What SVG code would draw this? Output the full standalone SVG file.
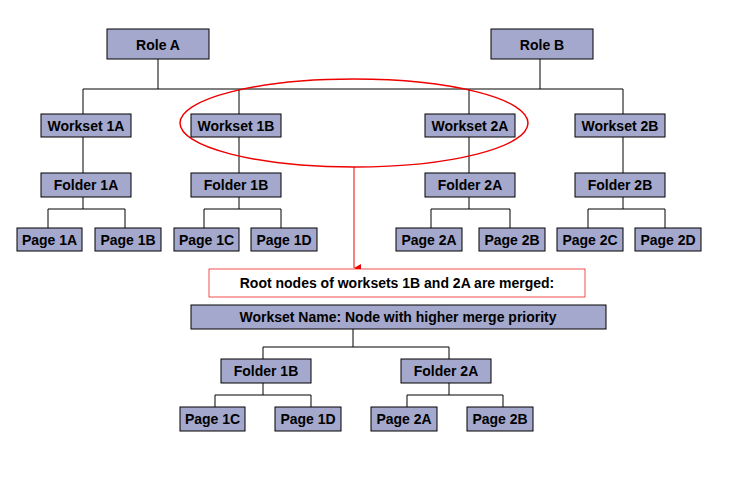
<svg xmlns="http://www.w3.org/2000/svg" width="756" height="482" viewBox="0 0 756 482">
<style>
.n rect{fill:#a4a8cc;stroke:#000;stroke-width:1}
text{font-family:"Liberation Sans",Arial,sans-serif;font-weight:bold;font-size:14px;text-anchor:middle;fill:#000}
.c{stroke:#000;stroke-width:1;fill:none}
</style>
<defs><marker id="ah" markerWidth="8" markerHeight="8" refX="4" refY="7" orient="auto" markerUnits="userSpaceOnUse"><path d="M0,0 L8,0 L4,7Z" fill="#e00"/></marker></defs>
<rect width="756" height="482" fill="#fff"/>
<g id="connectors">
<path class="c" d="M158 59V89M540 59V89M83 89H623M83 89V114M239 89V114M469 89V114M623 89V114"/>
<path class="c" d="M83 137V173M239 137V173M469 137V173M623 137V173"/>
<path class="c" d="M83 197V209M48 209H125M48 209V228M125 209V228M239 197V209M204 209H281M204 209V228M281 209V228"/>
<path class="c" d="M469 197V209M431 209H510M431 209V228M510 209V228M623 197V209M588 209H665M588 209V228M665 209V228"/>
<path class="c" d="M353 329V347M263 347H449M263 347V359M449 347V359M263 383V395M215 395H311M215 395V407M311 395V407M449 383V395M407 395H503M407 395V407M503 395V407"/>
<ellipse cx="354" cy="123" rx="174" ry="44" fill="none" stroke="#e00" stroke-width="1.5"/>
<line x1="354" y1="167" x2="354" y2="268" stroke="#e00" stroke-width="1" marker-end="url(#ah)"/>
</g>
<g id="roleA" class="n"><rect x="107" y="29" width="102" height="30"/><text x="158" y="50">Role A</text></g>
<g id="roleB" class="n"><rect x="491" y="29" width="102" height="30"/><text x="542" y="50">Role B</text></g>
<g id="ws1A" class="n"><rect x="41" y="114" width="90" height="23"/><text x="86" y="131">Workset 1A</text></g>
<g id="ws1B" class="n"><rect x="191" y="114" width="90" height="23"/><text x="236" y="131">Workset 1B</text></g>
<g id="ws2A" class="n"><rect x="425" y="114" width="90" height="23"/><text x="470" y="131">Workset 2A</text></g>
<g id="ws2B" class="n"><rect x="575" y="114" width="90" height="23"/><text x="620" y="131">Workset 2B</text></g>
<g id="f1A" class="n"><rect x="41" y="173" width="90" height="24"/><text x="86" y="190">Folder 1A</text></g>
<g id="f1B" class="n"><rect x="191" y="173" width="90" height="24"/><text x="236" y="190">Folder 1B</text></g>
<g id="f2A" class="n"><rect x="425" y="173" width="90" height="24"/><text x="470" y="190">Folder 2A</text></g>
<g id="f2B" class="n"><rect x="575" y="173" width="90" height="24"/><text x="620" y="190">Folder 2B</text></g>
<g id="p1A" class="n"><rect x="17" y="228" width="65" height="23"/><text x="49.5" y="245">Page 1A</text></g>
<g id="p1B" class="n"><rect x="95" y="228" width="66" height="23"/><text x="128" y="245">Page 1B</text></g>
<g id="p1C" class="n"><rect x="174" y="228" width="65" height="23"/><text x="206.5" y="245">Page 1C</text></g>
<g id="p1D" class="n"><rect x="251" y="228" width="66" height="23"/><text x="284" y="245">Page 1D</text></g>
<g id="p2A" class="n"><rect x="396" y="228" width="66" height="23"/><text x="429" y="245">Page 2A</text></g>
<g id="p2B" class="n"><rect x="479" y="228" width="66" height="23"/><text x="512" y="245">Page 2B</text></g>
<g id="p2C" class="n"><rect x="557" y="228" width="66" height="23"/><text x="590" y="245">Page 2C</text></g>
<g id="p2D" class="n"><rect x="635" y="228" width="66" height="23"/><text x="668" y="245">Page 2D</text></g>
<g id="note"><rect x="209" y="269" width="376" height="28" fill="#fff" stroke="#e00" stroke-width="0.7"/><text x="397" y="288">Root nodes of worksets 1B and 2A are merged:</text></g>
<g id="merged" class="n"><rect x="191" y="305" width="415" height="24"/><text x="398" y="322">Workset Name: Node with higher merge priority</text></g>
<g id="mf1B" class="n"><rect x="221" y="359" width="90" height="24"/><text x="266" y="376">Folder 1B</text></g>
<g id="mf2A" class="n"><rect x="401" y="359" width="90" height="24"/><text x="446" y="376">Folder 2A</text></g>
<g id="mp1C" class="n"><rect x="180" y="407" width="65" height="24"/><text x="212.5" y="424">Page 1C</text></g>
<g id="mp1D" class="n"><rect x="275" y="407" width="66" height="24"/><text x="308" y="424">Page 1D</text></g>
<g id="mp2A" class="n"><rect x="371" y="407" width="66" height="24"/><text x="404" y="424">Page 2A</text></g>
<g id="mp2B" class="n"><rect x="467" y="407" width="66" height="24"/><text x="500" y="424">Page 2B</text></g>
</svg>
